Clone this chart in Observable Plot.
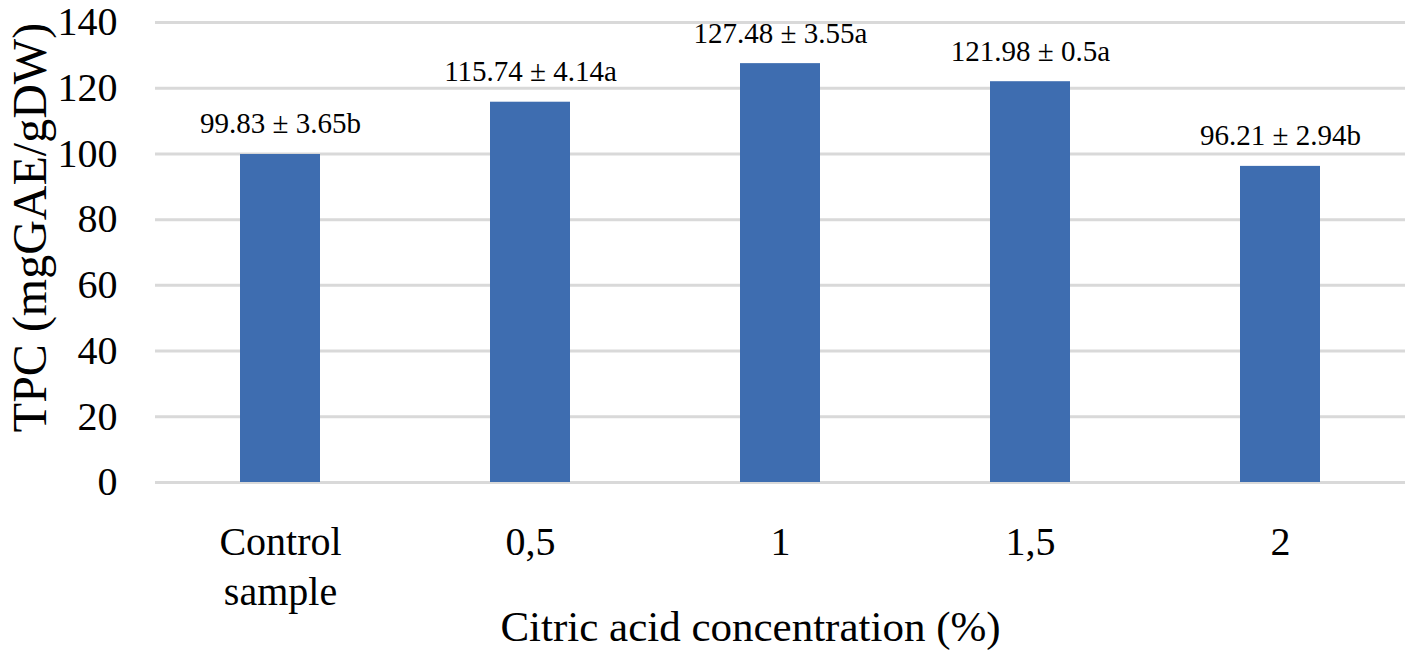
<!DOCTYPE html>
<html>
<head>
<meta charset="utf-8">
<script src="https://cdn.jsdelivr.net/npm/d3@7"></script>
<script src="https://cdn.jsdelivr.net/npm/@observablehq/plot@0.6"></script>
<style>
  html, body { margin: 0; padding: 0; background: #fff; }
</style>
</head>
<body>
<div id="chart"></div>
<script>
const categories = ["Control sample", "0,5", "1", "1,5", "2"];
const values = [99.83, 115.74, 127.48, 121.98, 96.21];
const labels = ["99.83 ± 3.65b", "115.74 ± 4.14a", "127.48 ± 3.55a", "121.98 ± 0.5a", "96.21 ± 2.94b"];
const yTicks = [0, 20, 40, 60, 80, 100, 120, 140];
const xTitle = "Citric acid concentration (%)";
const yTitle = "TPC (mgGAE/gDW)";

const data = categories.map((c, i) => ({cat: c, value: values[i], label: labels[i]}));

const chart = Plot.plot({
  width: 1408,
  height: 662,
  marginLeft: 155,
  marginRight: 3,
  marginTop: 22,
  marginBottom: 180,
  style: {fontFamily: "'Liberation Serif', 'Times New Roman', serif", background: "#fff", color: "#000"},
  x: {domain: categories, paddingInner: 0.68, paddingOuter: 0.34},
  y: {domain: [0, 140]},
  marks: [
    Plot.gridY(yTicks, {stroke: "#d9d9d9", strokeWidth: 3, strokeOpacity: 1}),
    Plot.barY(data, {x: "cat", y: "value", fill: "#3e6db0"}),
    Plot.text(data, {x: "cat", y: "value", text: "label", dy: -21, lineAnchor: "bottom", fontSize: 29}),
    Plot.axisY(yTicks, {tickSize: 0, tickPadding: 38, fontSize: 40, label: null}),
    Plot.axisX({tickSize: 0, tickPadding: 37, fontSize: 40, label: null, lineHeight: 1.25,
      tickFormat: d => d.replace(" ", "\n")}),
    Plot.text([xTitle], {frameAnchor: "bottom", dx: -30, dy: 158, lineAnchor: "bottom", fontSize: 43}),
    Plot.text([yTitle], {frameAnchor: "left", textAnchor: "middle", rotate: -90, dx: -110, dy: -25, lineAnchor: "bottom", fontSize: 48})
  ]
});
document.getElementById("chart").appendChild(chart);
</script>
</body>
</html>
